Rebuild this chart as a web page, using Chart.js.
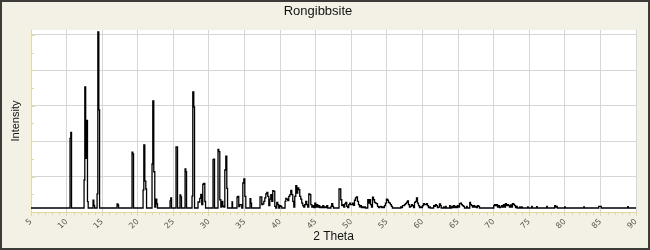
<!DOCTYPE html>
<html>
<head>
<meta charset="utf-8">
<script src="https://cdn.jsdelivr.net/npm/chart.js@4.4.0/dist/chart.umd.min.js"></script>
<style>
  html, body { margin: 0; padding: 0; background: #F3F1E5; }
  #wrap { width: 650px; height: 250px; position: relative; }
</style>
</head>
<body>
<div id="wrap"><canvas id="c" width="650" height="250"></canvas></div>
<script>
const chartTitle = 'Rongibbsite';
const xAxisTitle = '2 Theta';
const yAxisTitle = 'Intensity';

const xTickValues = [5, 10, 15, 20, 25, 30, 35, 40, 45, 50, 55, 60, 65, 70, 75, 80, 85, 90];
const yGridValues = [17.9, 38.0, 58.1, 78.2, 98.3];
const yMinorValues = [7.85, 27.95, 48.05, 68.15, 88.25];

const twoTheta = [
  5, 10.45, 10.52, 10.66, 10.73,
  12.42, 12.49, 12.63, 12.73, 12.87, 13.00, 13.07,
  13.68, 13.75, 13.90, 13.97,
  14.25, 14.32, 14.46, 14.60, 14.67,
  17.06, 17.13, 17.27, 17.34,
  19.16, 19.23, 19.37, 19.44,
  20.71, 20.78, 20.92, 21.06, 21.20, 21.27,
  21.97, 22.04, 22.18, 22.32, 22.46, 22.60, 22.74, 22.81,
  24.50, 24.57, 24.71, 24.78,
  25.34, 25.41, 25.55, 25.62,
  25.90, 25.97, 26.11, 26.18,
  26.61, 26.68, 26.82, 26.89,
  27.59, 27.66, 27.80, 27.94, 28.01,
  28.43, 28.50, 28.64, 28.78, 28.92, 29.06, 29.21, 29.35, 29.49, 29.56,
  30.54, 30.61, 30.75, 30.82,
  31.24, 31.31, 31.45, 31.60, 31.74, 31.88, 32.02, 32.16, 32.30, 32.44, 32.58, 32.65,
  33.21, 33.28, 33.35,
  33.91, 33.98, 34.12, 34.26, 34.40, 34.54, 34.69, 34.83, 34.97, 35.11, 35.25,
  35.74, 35.81, 35.95, 36.02,
  37.14, 37.21, 37.35, 37.50, 37.64, 37.78, 37.92, 38.06, 38.20, 38.34,
  38.48, 38.62, 38.76, 38.90, 39.04, 39.18, 39.32, 39.46, 39.60, 39.74,
  39.88, 40.02, 40.16, 40.30,
  40.66, 40.73, 40.87, 41.01, 41.15, 41.29, 41.43, 41.57, 41.71, 41.85,
  41.99, 42.13, 42.27, 42.41, 42.55, 42.69, 42.83, 42.97, 43.11, 43.25,
  43.39, 43.53, 43.67, 43.81, 43.95, 44.10, 44.24, 44.38, 44.52,
  44.66, 44.80, 44.94, 45.08, 45.22, 45.36, 45.50, 45.64, 45.78, 45.92,
  46.06, 46.20, 46.34, 46.48, 46.62, 46.76,
  47.11, 47.18, 47.32, 47.46, 47.53,
  48.24, 48.31, 48.45, 48.59, 48.73, 48.87, 49.01, 49.15, 49.29, 49.43,
  49.57, 49.71, 49.85, 49.96, 50.10, 50.24, 50.38, 50.52, 50.66, 50.80,
  50.94, 51.08, 51.22, 51.36, 51.50, 51.64, 51.78, 51.92, 52.06,
  52.28, 52.35, 52.49, 52.63, 52.77, 52.91, 53.05, 53.19, 53.33, 53.47,
  53.61, 53.75, 53.89, 54.03, 54.17, 54.31, 54.45, 54.59, 54.73, 54.87,
  55.01, 55.15, 55.29, 55.43, 55.57, 55.71, 55.85,
  56.91, 56.98, 57.12, 57.26, 57.40, 57.54, 57.68, 57.82, 57.96, 58.10,
  58.24, 58.38, 58.53, 58.67, 58.81, 58.95, 59.09, 59.23, 59.37, 59.51,
  59.65, 59.79, 59.93, 60.07, 60.21, 60.35, 60.49, 60.63, 60.77, 60.91,
  61.05, 61.12,
  61.54, 61.61, 61.75, 61.89, 62.03, 62.17, 62.32, 62.46, 62.60, 62.67,
  62.95, 63.02, 63.09, 63.23, 63.30, 63.37, 63.79, 63.86, 63.93, 64.07,
  64.14, 64.28, 64.42, 64.56, 64.70, 64.84, 64.98, 65.13, 65.27, 65.41,
  65.55, 65.69, 65.83, 65.97,
  66.18, 66.25, 66.32, 66.61, 66.68, 66.82, 66.96, 67.10, 67.24, 67.38,
  67.52, 67.66, 67.80, 67.94, 68.08,
  69.98, 70.05, 70.19, 70.33, 70.47, 70.61, 70.75, 70.89, 71.03, 71.17,
  71.31, 71.45, 71.59, 71.73, 71.87, 72.01, 72.15, 72.29, 72.43, 72.57,
  72.71, 72.86, 73.00, 73.14, 73.28, 73.35,
  73.63, 73.70, 73.77, 73.91, 73.98, 74.05, 74.75, 74.82, 74.89, 75.31,
  75.38, 75.45, 76.02, 76.09, 76.16, 77.42, 77.49, 77.56, 78.55, 78.62,
  78.76, 78.90, 78.97,
  79.95, 80.02, 80.09, 82.63, 82.70, 82.77, 84.73, 84.80, 84.94, 85.08,
  85.15, 88.80, 88.87, 88.94, 90
];

const intensity = [
  0, 0, 39.6, 43.0, 0,
  0, 15.9, 68.8, 28.2, 49.8, 3.6, 0,
  0, 4.5, 1.5, 0,
  0, 8.0, 100, 55.7, 0,
  0, 2.3, 1.7, 0,
  0, 31.8, 30.7, 0,
  0, 10.2, 35.8, 15.3, 10.8, 0,
  0, 25.0, 60.8, 20.6, 0.5, 5.1, 2.3, 0,
  0, 4.0, 5.7, 0,
  0, 34.7, 34.7, 0,
  0, 7.4, 6.3, 0,
  0, 22.2, 20.6, 0,
  0, 6.8, 65.9, 57.4, 0,
  0, 3.4, 3.4, 5.5, 7.8, 2.0, 13.5, 14.0, 3.7, 0,
  0, 27.5, 27.7, 0,
  0, 33.3, 32.0, 4.7, 0.5, 3.8, 1.0, 0.5, 21.6, 29.5, 11.2, 0,
  0, 3.4, 0,
  0, 6.1, 6.6, 0.8, 1.9, 1.9, 0, 14.2, 16.5, 6.6, 0,
  0, 5.3, 2.8, 0,
  0, 6.3, 6.3, 1.9, 2.3, 3.8, 5.7, 8.0, 8.9, 6.6,
  1.3, 5.1, 7.6, 3.8, 9.8, 9.5, 0.9, 0, 3.2, 1.9,
  0, 1.3, 0.9, 0,
  0, 3.8, 5.5, 5.1, 4.2, 6.6, 7.6, 10.0, 7.6, 3.8,
  0.5, 6.6, 12.7, 8.5, 11.4, 10.4, 6.6, 5.1, 2.8, 1.3,
  0.5, 1.9, 3.8, 1.9, 0.5, 8.0, 7.6, 1.9, 0.5,
  1.3, 0.3, 2.8, 0.5, 1.9, 0.5, 1.3, 0.3, 0.6, 0.2,
  1.3, 0.2, 0.6, 0.3, 1.3, 0,
  0, 0.9, 2.5, 0.9, 0,
  0, 10.8, 10.8, 4.7, 1.3, 1.9, 0.5, 2.3, 3.2, 0.9,
  0.3, 1.9, 2.8, 1.9, 1.9, 2.8, 1.5, 4.4, 5.7, 6.3,
  3.8, 1.9, 0.6, 1.3, 0.3, 0.6, 0.2, 0.6, 0,
  0, 4.7, 2.8, 4.7, 1.9, 0.5, 6.1, 4.7, 3.2, 2.8,
  2.5, 0.9, 0.3, 0.6, 0.9, 0.2, 0.6, 0.3, 1.3, 2.8,
  5.1, 4.4, 3.2, 2.8, 1.9, 0.9, 0,
  0, 0.6, 0.3, 1.3, 1.3, 1.9, 2.5, 3.2, 4.0, 1.9,
  0.5, 0.9, 1.9, 1.3, 0.3, 3.2, 3.8, 5.7, 2.8, 1.3,
  0.3, 0.6, 0.2, 1.3, 2.5, 1.9, 1.9, 2.5, 1.3, 0.3,
  0.6, 0,
  0, 1.3, 0.9, 1.9, 1.3, 0.3, 0.5, 2.3, 1.3, 0,
  0, 0.6, 0, 0, 0.9, 0, 0, 1.3, 0, 0,
  0.9, 0.3, 1.3, 0.3, 0.9, 0.3, 1.3, 0.5, 2.5, 2.8,
  1.9, 1.3, 0.9, 0,
  0, 0.9, 0, 0, 3.2, 1.9, 1.3, 0.5, 1.3, 0.5,
  0.9, 0.3, 1.3, 0.9, 0,
  0, 1.3, 1.9, 1.3, 1.9, 0.5, 1.3, 0.3, 0.5, 1.3,
  0.5, 1.9, 0.5, 2.5, 1.3, 1.9, 1.3, 0.5, 1.7, 0.5,
  2.5, 2.1, 1.3, 0.3, 0.9, 0,
  0, 0.6, 0, 0, 0.6, 0, 0, 0.6, 0, 0,
  0.9, 0, 0, 0.8, 0, 0, 0.9, 0, 0, 1.3,
  0.5, 0.9, 0,
  0, 0.6, 0, 0, 0.6, 0, 0, 0.9, 0.9, 0.9,
  0, 0, 0.8, 0, 0
];

const AXIS_YELLOW = '#E2D99E';
const GRID_GRAY = '#D6D6D6';
const BG = '#F3F1E5';

const framePlugin = {
  id: 'frame',
  beforeDraw(chart) {
    const { ctx, chartArea: a, width, height } = chart;
    ctx.save();
    ctx.fillStyle = BG;
    ctx.fillRect(0, 0, width, height);
    ctx.fillStyle = '#FFFFFF';
    ctx.fillRect(a.left, a.top, a.right - a.left, a.bottom - a.top);
    ctx.strokeStyle = '#3C3B37';
    ctx.lineWidth = 2;
    ctx.strokeRect(1, 1, width - 2, height - 2);
    ctx.restore();
  },
  afterDraw(chart) {
    const { ctx, chartArea: a } = chart;
    const xs = chart.scales.x, ys = chart.scales.y;
    ctx.save();
    ctx.strokeStyle = AXIS_YELLOW;
    ctx.lineWidth = 1;
    ctx.beginPath();
    for (let v = xs.min; v <= xs.max; v += 1) {
      if (v % 5 === 0) continue;
      const px = Math.round(xs.getPixelForValue(v)) + 0.5;
      ctx.moveTo(px, a.bottom);
      ctx.lineTo(px, a.bottom + 3);
    }
    yGridValues.forEach(v => {
      const py = Math.round(ys.getPixelForValue(v)) + 0.5;
      ctx.moveTo(a.left, py);
      ctx.lineTo(a.left + 4, py);
    });
    yMinorValues.forEach(v => {
      const py = Math.round(ys.getPixelForValue(v)) + 0.5;
      ctx.moveTo(a.left, py);
      ctx.lineTo(a.left + 3, py);
    });
    ctx.stroke();
    ctx.restore();
  }
};

const points = twoTheta.map((t, i) => ({ x: t, y: intensity[i] }));

new Chart(document.getElementById('c'), {
  type: 'line',
  data: {
    datasets: [{
      label: chartTitle,
      data: points,
      borderColor: '#000000',
      borderWidth: 1.3,
      pointRadius: 0,
      stepped: 'middle',
      fill: false
    }]
  },
  options: {
    responsive: false,
    animation: false,
    devicePixelRatio: 1,
    layout: { padding: { left: 0, right: 14, top: 0, bottom: 0 } },
    plugins: {
      legend: { display: false },
      tooltip: { enabled: false },
      title: {
        display: true,
        text: chartTitle,
        color: '#111111',
        font: { family: 'Liberation Sans', size: 13, weight: 'normal' },
        padding: { top: 3.5, bottom: 10.9 }
      }
    },
    scales: {
      x: {
        type: 'linear',
        min: 5,
        max: 90,
        afterBuildTicks(scale) { scale.ticks = xTickValues.map(v => ({ value: v })); },
        afterFit(scale) { scale.height = 38; },
        ticks: {
          autoSkip: false,
          minRotation: 45,
          maxRotation: 45,
          padding: 1,
          color: '#555555',
          font: { family: 'DejaVu Sans', size: 8 }
        },
        grid: { color: GRID_GRAY, lineWidth: 1, tickLength: 4, tickColor: AXIS_YELLOW, drawTicks: true },
        border: { color: AXIS_YELLOW, width: 1 },
        title: {
          display: true,
          text: xAxisTitle,
          color: '#111111',
          font: { family: 'Liberation Sans', size: 12 },
          padding: { top: 0, bottom: 6 }
        }
      },
      y: {
        type: 'linear',
        min: -2.27,
        max: 101.14,
        afterBuildTicks(scale) { scale.ticks = yGridValues.map(v => ({ value: v })); },
        afterFit(scale) { scale.width = 31; },
        ticks: { display: false },
        grid: { color: GRID_GRAY, lineWidth: 1, drawTicks: false },
        border: { color: AXIS_YELLOW, width: 1 },
        title: {
          display: true,
          text: yAxisTitle,
          color: '#111111',
          font: { family: 'Liberation Sans', size: 11 },
          padding: { top: 9, bottom: 0 }
        }
      }
    }
  },
  plugins: [framePlugin]
});
</script>
</body>
</html>
